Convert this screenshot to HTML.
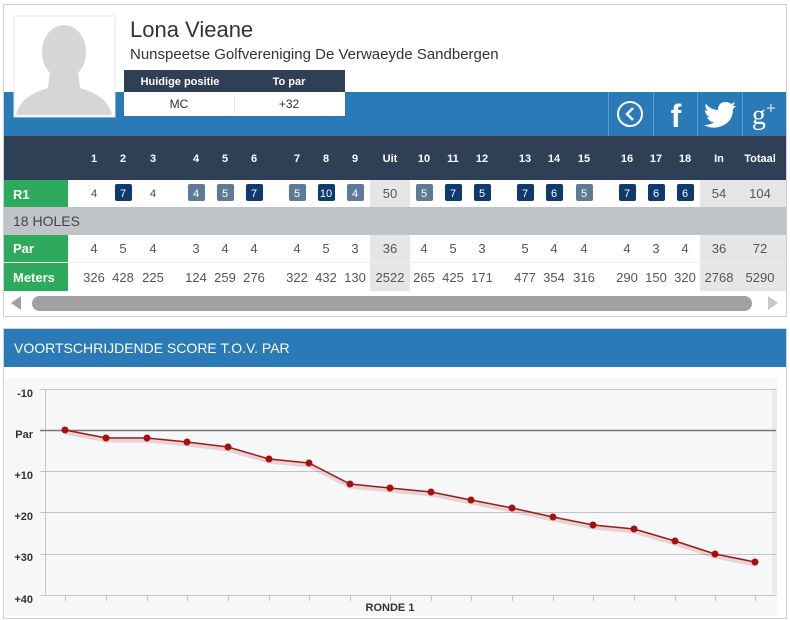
<!DOCTYPE html>
<html><head><meta charset="utf-8"><style>
html,body{margin:0;padding:0;background:#fff;}
svg{display:block;font-family:"Liberation Sans",Arial,sans-serif;}
</style></head><body>
<svg width="790" height="620" viewBox="0 0 790 620" xmlns="http://www.w3.org/2000/svg">
<!-- top card -->
<rect x="3.5" y="4.5" width="783" height="312" fill="#fff" stroke="#d0d0d0"/>
<rect x="4" y="92" width="782" height="44" fill="#2a7ab8"/>
<!-- avatar -->
<rect x="14" y="16" width="101" height="101" fill="#fff" stroke="#e4e4e4"/>
<g fill="#d6d6d6">
<ellipse cx="64" cy="52" rx="22" ry="27"/>
<path d="M50 72 L78 72 L80 88 Q108 96 112 115 L16 115 Q20 96 48 88 Z"/>
</g>
<text x="130" y="37" font-size="22" fill="#333">Lona Vieane</text>
<text x="130" y="59" font-size="15" fill="#333">Nunspeetse Golfvereniging De Verwaeyde Sandbergen</text>
<rect x="124" y="70" width="221" height="22" fill="#2f3f56"/>
<rect x="124" y="92" width="221" height="24" fill="#fff"/>
<line x1="234.5" y1="96" x2="234.5" y2="114" stroke="#e8e8e8"/>
<text x="180" y="85" font-size="11" font-weight="bold" fill="#fff" text-anchor="middle">Huidige positie</text>
<text x="289" y="85" font-size="11" font-weight="bold" fill="#fff" text-anchor="middle">To par</text>
<text x="179" y="108" font-size="12" fill="#333" text-anchor="middle">MC</text>
<text x="289" y="108" font-size="12" fill="#333" text-anchor="middle">+32</text>
<!-- icons -->
<g stroke="#5a9ad0" stroke-width="1"><line x1="608.5" y1="92" x2="608.5" y2="136"/><line x1="653.5" y1="92" x2="653.5" y2="136"/><line x1="697.5" y1="92" x2="697.5" y2="136"/><line x1="742.5" y1="92" x2="742.5" y2="136"/></g>
<circle cx="630" cy="114" r="12" fill="none" stroke="#fff" stroke-width="2"/>
<path d="M633 108 L627 114 L633 120" fill="none" stroke="#fff" stroke-width="2.5"/>
<text x="676" y="127" font-size="32" font-weight="bold" fill="#fff" text-anchor="middle">f</text>
<path d="M706 104 q5 6 12 6 q0-8 8-8 q3 0 5 2 l4-2 l-2 4 l3 0 l-3 3 q0 14-14 18 q-8 2-15-2 q7 0 10-3 q-5 0-7-5 l3 0 q-5-2-5-7 l3 1 q-4-4-2-7z" fill="#fff"/>
<text x="764" y="124" font-size="28" fill="#fff" text-anchor="middle" font-family="Liberation Serif,serif">g<tspan font-size="18" dy="-10">+</tspan></text>
<!-- table header -->
<rect x="4" y="136" width="782" height="44" fill="#2f3f56"/>
<g font-size="11" font-weight="bold" fill="#fff" text-anchor="middle">
<text x="94" y="162">1</text><text x="123" y="162">2</text><text x="153" y="162">3</text><text x="196" y="162">4</text><text x="225" y="162">5</text><text x="254" y="162">6</text><text x="297" y="162">7</text><text x="326" y="162">8</text><text x="355" y="162">9</text><text x="390" y="162">Uit</text><text x="424" y="162">10</text><text x="453" y="162">11</text><text x="482" y="162">12</text><text x="525" y="162">13</text><text x="554" y="162">14</text><text x="584" y="162">15</text><text x="627" y="162">16</text><text x="656" y="162">17</text><text x="685" y="162">18</text><text x="719" y="162">In</text><text x="760" y="162">Totaal</text>
</g>
<!-- shaded cols -->
<rect x="370" y="180" width="40" height="27" fill="#e6e6e6"/>
<rect x="700" y="180" width="86" height="27" fill="#e6e6e6"/>
<rect x="370" y="235" width="40" height="56" fill="#e6e6e6"/>
<rect x="700" y="235" width="86" height="56" fill="#e6e6e6"/>
<!-- green labels -->
<rect x="4" y="180" width="64" height="27" fill="#2eaa5c"/>
<rect x="4" y="235" width="64" height="27" fill="#2eaa5c"/>
<rect x="4" y="263" width="64" height="28" fill="#2eaa5c"/>
<line x1="68" y1="262.5" x2="786" y2="262.5" stroke="#eee"/>
<rect x="4" y="207" width="782" height="28" fill="#c0c4c8"/>
<g font-size="13" font-weight="bold" fill="#fff">
<text x="13" y="199">R1</text><text x="13" y="253">Par</text><text x="13" y="282">Meters</text></g>
<text x="13" y="226" font-size="14" fill="#444">18 HOLES</text>
<!-- R1 boxes -->
<g>
<rect x="115" y="184" width="17" height="17" rx="2" fill="#0e3a6e"/>
<rect x="188" y="184" width="17" height="17" rx="2" fill="#5f7a96"/>
<rect x="217" y="184" width="17" height="17" rx="2" fill="#5f7a96"/>
<rect x="246" y="184" width="17" height="17" rx="2" fill="#0e3a6e"/>
<rect x="289" y="184" width="17" height="17" rx="2" fill="#5f7a96"/>
<rect x="318" y="184" width="17" height="17" rx="2" fill="#0e3a6e"/>
<rect x="347" y="184" width="17" height="17" rx="2" fill="#5f7a96"/>
<rect x="416" y="184" width="17" height="17" rx="2" fill="#5f7a96"/>
<rect x="445" y="184" width="17" height="17" rx="2" fill="#0e3a6e"/>
<rect x="474" y="184" width="17" height="17" rx="2" fill="#0e3a6e"/>
<rect x="517" y="184" width="17" height="17" rx="2" fill="#0e3a6e"/>
<rect x="546" y="184" width="17" height="17" rx="2" fill="#0e3a6e"/>
<rect x="576" y="184" width="17" height="17" rx="2" fill="#5f7a96"/>
<rect x="619" y="184" width="17" height="17" rx="2" fill="#0e3a6e"/>
<rect x="648" y="184" width="17" height="17" rx="2" fill="#0e3a6e"/>
<rect x="677" y="184" width="17" height="17" rx="2" fill="#0e3a6e"/>
</g>
<g font-size="11" fill="#fff" text-anchor="middle">
<text x="123" y="197">7</text><text x="196" y="197">4</text><text x="225" y="197">5</text><text x="254" y="197">7</text><text x="297" y="197">5</text><text x="326" y="197">10</text><text x="355" y="197">4</text><text x="424" y="197">5</text><text x="453" y="197">7</text><text x="482" y="197">5</text><text x="525" y="197">7</text><text x="554" y="197">6</text><text x="584" y="197">5</text><text x="627" y="197">7</text><text x="656" y="197">6</text><text x="685" y="197">6</text>
</g>
<g font-size="11" fill="#444" text-anchor="middle"><text x="94" y="197">4</text><text x="153" y="197">4</text></g>
<g font-size="13" fill="#555" text-anchor="middle"><text x="390" y="198">50</text><text x="719" y="198">54</text><text x="760" y="198">104</text></g>
<g font-size="13" fill="#555" text-anchor="middle">
<text x="94" y="253">4</text><text x="123" y="253">5</text><text x="153" y="253">4</text><text x="196" y="253">3</text><text x="225" y="253">4</text><text x="254" y="253">4</text><text x="297" y="253">4</text><text x="326" y="253">5</text><text x="355" y="253">3</text><text x="390" y="253">36</text><text x="424" y="253">4</text><text x="453" y="253">5</text><text x="482" y="253">3</text><text x="525" y="253">5</text><text x="554" y="253">4</text><text x="584" y="253">4</text><text x="627" y="253">4</text><text x="656" y="253">3</text><text x="685" y="253">4</text><text x="719" y="253">36</text><text x="760" y="253">72</text>
<text x="94" y="282">326</text><text x="123" y="282">428</text><text x="153" y="282">225</text><text x="196" y="282">124</text><text x="225" y="282">259</text><text x="254" y="282">276</text><text x="297" y="282">322</text><text x="326" y="282">432</text><text x="355" y="282">130</text><text x="390" y="282">2522</text><text x="424" y="282">265</text><text x="453" y="282">425</text><text x="482" y="282">171</text><text x="525" y="282">477</text><text x="554" y="282">354</text><text x="584" y="282">316</text><text x="627" y="282">290</text><text x="656" y="282">150</text><text x="685" y="282">320</text><text x="719" y="282">2768</text><text x="760" y="282">5290</text>
</g>
<!-- scrollbar -->
<path d="M21 296 L11 303 L21 310 Z" fill="#a0a0a0"/>
<rect x="32" y="296" width="720" height="15" rx="7.5" fill="#a0a0a0"/>
<path d="M768 296 L778 303 L768 310 Z" fill="#c8c8c8"/>

<!-- chart card -->
<rect x="3.5" y="328.5" width="783" height="290" fill="#fff" stroke="#d0d0d0"/>
<rect x="4" y="329" width="782" height="38" fill="#2a7ab8"/>
<text x="14" y="353" font-size="14" fill="#fff">VOORTSCHRIJDENDE SCORE T.O.V. PAR</text>
<rect x="5" y="378" width="772" height="238" fill="#f6f7f9"/>
<rect x="772" y="388" width="5" height="208" fill="#e8eaec"/>
<g stroke="#c4c4c4" stroke-width="1">
<line x1="40" y1="389.5" x2="776" y2="389.5"/>
<line x1="40" y1="471.5" x2="776" y2="471.5"/>
<line x1="40" y1="512.5" x2="776" y2="512.5"/>
<line x1="40" y1="554.5" x2="776" y2="554.5"/>
<line x1="40" y1="595.5" x2="776" y2="595.5"/>
<line x1="45.5" y1="389" x2="45.5" y2="596"/>
</g>
<line x1="40" y1="430.5" x2="776" y2="430.5" stroke="#777" stroke-width="1.5"/>
<g stroke="#c4c4c4"><line x1="65.5" y1="596" x2="65.5" y2="601"/><line x1="106.5" y1="596" x2="106.5" y2="601"/><line x1="147.5" y1="596" x2="147.5" y2="601"/><line x1="187.5" y1="596" x2="187.5" y2="601"/><line x1="228.5" y1="596" x2="228.5" y2="601"/><line x1="269.5" y1="596" x2="269.5" y2="601"/><line x1="309.5" y1="596" x2="309.5" y2="601"/><line x1="350.5" y1="596" x2="350.5" y2="601"/><line x1="390.5" y1="596" x2="390.5" y2="601"/><line x1="431.5" y1="596" x2="431.5" y2="601"/><line x1="471.5" y1="596" x2="471.5" y2="601"/><line x1="512.5" y1="596" x2="512.5" y2="601"/><line x1="553.5" y1="596" x2="553.5" y2="601"/><line x1="593.5" y1="596" x2="593.5" y2="601"/><line x1="634.5" y1="596" x2="634.5" y2="601"/><line x1="675.5" y1="596" x2="675.5" y2="601"/><line x1="715.5" y1="596" x2="715.5" y2="601"/><line x1="755.5" y1="596" x2="755.5" y2="601"/></g>
<g font-size="11" font-weight="bold" fill="#333" text-anchor="end">
<text x="33" y="397">-10</text><text x="33" y="438">Par</text><text x="33" y="479">+10</text><text x="33" y="520">+20</text><text x="33" y="561">+30</text><text x="33" y="603">+40</text></g>
<text x="390" y="611" font-size="11" font-weight="bold" fill="#333" text-anchor="middle">RONDE 1</text>
<polyline fill="none" stroke="rgba(160,0,0,0.15)" stroke-width="5" transform="translate(0,2)" points="65,430 106,438 147,438 187,442 228,447 269,459 309,463 350,484 390,488 431,492 471,500 512,508 553,517 593,525 634,529 675,541 715,554 755,562"/>
<polyline fill="none" stroke="#9b1a1a" stroke-width="1.5" points="65,430 106,438 147,438 187,442 228,447 269,459 309,463 350,484 390,488 431,492 471,500 512,508 553,517 593,525 634,529 675,541 715,554 755,562"/>
<g fill="#a50f0f"><circle cx="65" cy="430" r="3.5"/><circle cx="106" cy="438" r="3.5"/><circle cx="147" cy="438" r="3.5"/><circle cx="187" cy="442" r="3.5"/><circle cx="228" cy="447" r="3.5"/><circle cx="269" cy="459" r="3.5"/><circle cx="309" cy="463" r="3.5"/><circle cx="350" cy="484" r="3.5"/><circle cx="390" cy="488" r="3.5"/><circle cx="431" cy="492" r="3.5"/><circle cx="471" cy="500" r="3.5"/><circle cx="512" cy="508" r="3.5"/><circle cx="553" cy="517" r="3.5"/><circle cx="593" cy="525" r="3.5"/><circle cx="634" cy="529" r="3.5"/><circle cx="675" cy="541" r="3.5"/><circle cx="715" cy="554" r="3.5"/><circle cx="755" cy="562" r="3.5"/></g>
</svg>
</body></html>
